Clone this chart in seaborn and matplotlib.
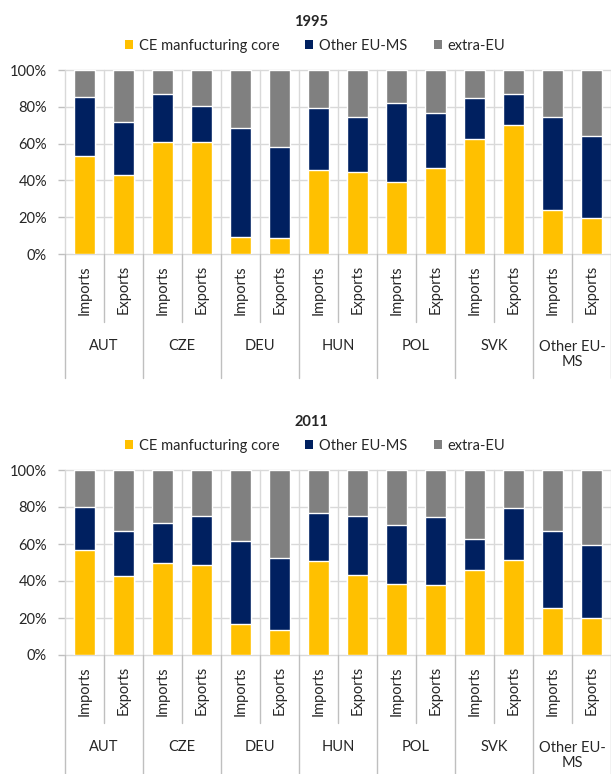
import numpy as np
import pandas as pd
import matplotlib
matplotlib.use("Agg")
import matplotlib.pyplot as plt
import seaborn as sns
from matplotlib.patches import Patch

sns.set_theme(style="white")
plt.rcParams['font.family'] = ['Lato', 'DejaVu Sans']

# ---------------- data ----------------
countries = ['AUT', 'CZE', 'DEU', 'HUN', 'POL', 'SVK', 'Other EU-\nMS']
flows = ['Imports', 'Exports']
series_names = ['CE manfucturing core', 'Other EU-MS', 'extra-EU']

ce_1995 = [53.2, 42.9, 61.1, 61.1, 9.5, 8.6, 45.6, 44.3, 39.3, 46.5, 62.5, 70.1, 23.8, 19.8]
other_1995 = [32.0, 28.8, 26.1, 19.1, 59.1, 49.6, 33.9, 30.3, 42.9, 30.3, 22.4, 17.1, 50.4, 44.3]
extra_1995 = [14.8, 28.3, 12.8, 19.8, 31.4, 41.8, 20.5, 25.4, 17.8, 23.2, 15.1, 12.8, 25.8, 35.9]

ce_2011 = [56.9, 42.7, 49.7, 48.8, 16.9, 13.5, 50.8, 43.1, 38.6, 37.7, 45.9, 51.2, 25.6, 20.2]
other_2011 = [23.1, 24.1, 21.7, 26.5, 44.7, 39.1, 26.0, 32.2, 31.5, 36.7, 17.0, 28.1, 41.4, 39.4]
extra_2011 = [20.0, 33.2, 28.6, 24.7, 38.4, 47.4, 23.2, 24.7, 29.9, 25.6, 37.1, 20.7, 33.0, 40.4]

yticks = [0, 20, 40, 60, 80, 100]
ytick_labels = ['0%', '20%', '40%', '60%', '80%', '100%']

colors = ['#FFC000', '#002060', '#808080']
GRID = '#D9D9D9'
SEP = '#BFBFBF'
TXT = '#262626'

W, H = 611, 774
fig = plt.figure(figsize=(W / 100, H / 100), dpi=100)


def px_rect(left, top, right, bottom):
    return [left / W, 1 - bottom / H, (right - left) / W, (bottom - top) / H]


def draw_panel(rect, title, title_y, legend_y, ce, other, extra, bottom_px):
    ax = fig.add_axes(rect)
    keys = [f"{c}|{f}" for c in countries for f in flows]
    df = pd.DataFrame({
        'bar': keys,
        'ce': ce,
        'other': other,
        'extra': extra,
    })
    df['lvl1'] = df['ce']
    df['lvl2'] = df['ce'] + df['other']
    df['lvl3'] = df['ce'] + df['other'] + df['extra']
    for col, colr in zip(['lvl3', 'lvl2', 'lvl1'], colors[::-1]):
        sns.barplot(data=df, x='bar', y=col, order=keys, color=colr,
                    saturation=1, width=0.54, errorbar=None, ax=ax, zorder=3)
    n = len(keys)
    ax.set_xlim(-0.5, n - 0.5)
    ax.set_ylim(0, 100)
    ax.set_xlabel('')
    ax.set_ylabel('')
    ax.set_xticks([])
    for s in ax.spines.values():
        s.set_visible(False)
    # gridlines
    for yv in yticks:
        ax.axhline(yv, color=GRID, lw=1, zorder=1, clip_on=False)
    for xv in np.arange(-0.5, n, 1.0):
        ax.axvline(xv, color=GRID, lw=1, zorder=1, clip_on=False)
    ax.set_yticks(yticks)
    ax.set_yticklabels(ytick_labels, fontsize=10.5, color=TXT)
    ax.tick_params(axis='y', length=5, width=1, color=SEP, pad=8, left=True)

    fig.canvas.draw()
    hpx = ax.bbox.height
    xt = ax.get_xaxis_transform()
    # category separators below axis
    for i, xv in enumerate(np.arange(-0.5, n, 1.0)):
        depth = bottom_px if i % 2 == 0 else 68
        ax.plot([xv, xv], [0, -depth / hpx], transform=xt, color=SEP, lw=1,
                clip_on=False, zorder=1)
    for i, k in enumerate(keys):
        ax.text(i, -11 / hpx, k.split('|')[1], transform=xt, rotation=90,
                ha='center', va='top', fontsize=10.5, color=TXT)
    for g, c in enumerate(countries):
        yoff = -92 if '\n' not in c else -100.5
        ax.text(2 * g + 0.5, yoff / hpx, c, transform=xt, ha='center',
                va='center', fontsize=10.5, color=TXT, linespacing=1.1,
                multialignment='center')
    fig.text(311 / W, 1 - title_y / H, title, ha='center', va='center',
             fontsize=10.5, fontweight='bold', color=TXT)
    handles = [Patch(facecolor=c, edgecolor='none') for c in colors]
    fig.legend(handles, series_names, loc='center',
               bbox_to_anchor=(315 / W, 1 - legend_y / H), ncol=3,
               frameon=False, fontsize=10.5, handlelength=0.55,
               handleheight=0.55, handletextpad=0.4, columnspacing=1.8,
               labelcolor=TXT)
    return ax


draw_panel(px_rect(65, 70, 611, 254), '1995', 22, 46,
           ce_1995, other_1995, extra_1995, 124)
draw_panel(px_rect(65, 470, 611, 655), '2011', 422, 446,
           ce_2011, other_2011, extra_2011, 125)

fig.savefig('out.png', dpi=100)
